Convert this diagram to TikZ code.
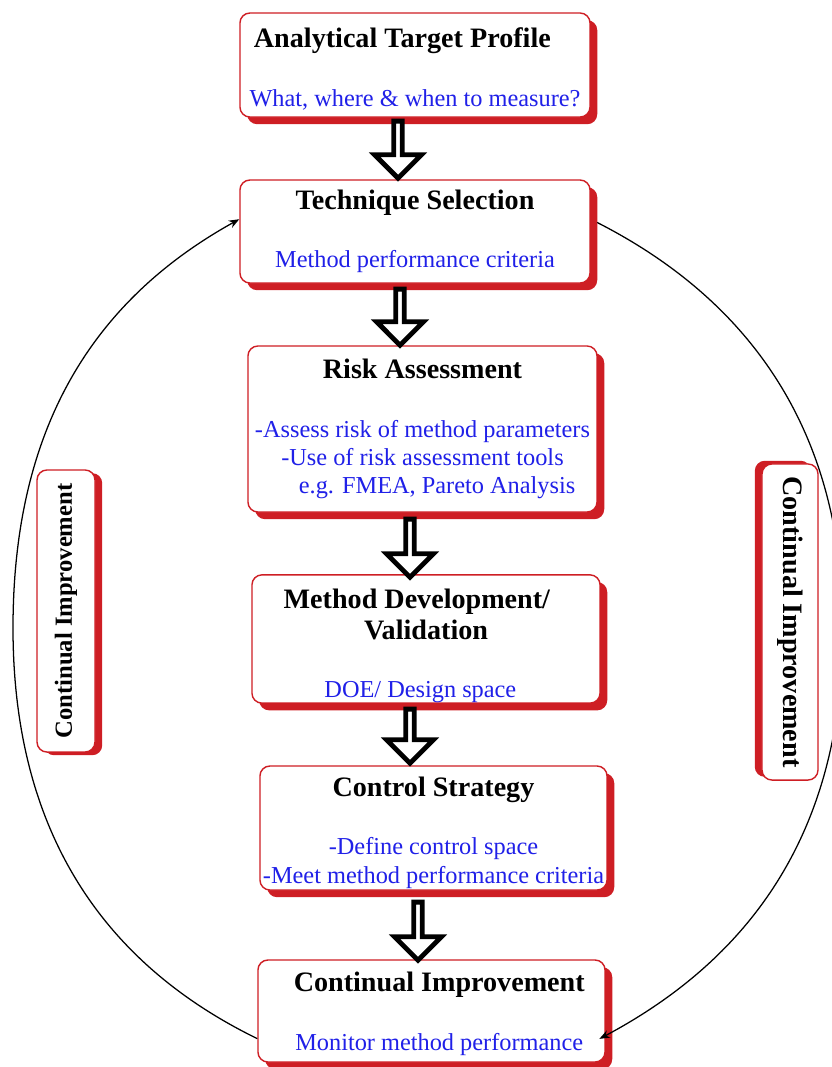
\documentclass[tikz,border=0pt]{standalone}
\usepackage{fontspec}
\setmainfont{Liberation Serif}
\usepackage{graphicx}
\usetikzlibrary{positioning,arrows.meta,shapes.arrows,shadows}
\definecolor{BoxRed}{RGB}{206,30,36}
\definecolor{NoteBlue}{RGB}{32,32,232}
\newcommand{\ttl}{\fontsize{20}{23}\selectfont\bfseries}
\newcommand{\nte}{\fontsize{17.3}{20}\selectfont\color{NoteBlue}}

\begin{document}
\begin{tikzpicture}[x=0.025cm, y=-0.025cm, every node/.style={align=center}]
\tikzset{
  panel/.style={draw=BoxRed, line width=1pt, rounded corners=0.25cm, fill=white, inner sep=0pt,
    font=\fontsize{17.3}{20}\selectfont},
  stage/.style={panel, drop shadow={shadow xshift=0.18cm, shadow yshift=-0.18cm, fill=BoxRed, opacity=1}},
  sidel/.style={panel, minimum width=1.45cm, drop shadow={shadow xshift=0.18cm, shadow yshift=-0.08cm, fill=BoxRed, opacity=1}},
  sider/.style={panel, minimum width=1.4cm, drop shadow={shadow xshift=-0.18cm, shadow yshift=0.08cm, fill=BoxRed, opacity=1}},
  hollow/.style={single arrow, draw=black, line width=3.4pt, fill=white, shape border rotate=270,
    minimum width=1.17cm, single arrow head extend=0.27cm, inner sep=0pt},
  cyclearc/.style={-{Stealth[length=2.6mm,width=2mm]}, line width=0.9pt}
}
  \useasboundingbox (0,0) rectangle (832,1067);
  \clip (0,0) rectangle (832,1067);

  % stages
  \node[stage, minimum width=8.75cm, minimum height=2.6cm] (atp) at (415,65)
    {{\ttl\rule{0pt}{19.5pt}Analytical Target Profile\hspace*{18pt}}\\[21.5pt]{\nte What, where \& when to measure?}};
  \node[stage, minimum width=8.75cm, minimum height=2.575cm] (ts) at (415,231.5)
    {{\ttl Technique Selection}\\[21.5pt]{\nte Method performance criteria}};
  \node[stage, minimum width=8.725cm, minimum height=4.15cm] (ra) at (422.5,429)
    {{\ttl Risk Assessment}\\[21.5pt]{\nte -Assess risk of method parameters}\\
     {\nte -Use of risk assessment tools}\\{\nte \hspace*{1.2em}e.g. FMEA, Pareto Analysis}};
  \node[stage, minimum width=8.7cm, minimum height=3.05cm] (md) at (426,639)
    {{\ttl\rule{0pt}{24pt}Method Development/\hspace*{13pt}}\\[2pt]{\ttl Validation\hspace*{15pt}}\\[21.5pt]{\nte DOE/ Design space\hspace*{8pt}}};
  \node[stage, minimum width=8.675cm, minimum height=3.1cm] (cs) at (433.5,828)
    {{\ttl\rule{0pt}{20.5pt}Control Strategy}\\[21.5pt]{\nte -Define control space}\\{\nte -Meet method performance criteria}};
  \node[stage, minimum width=8.675cm, minimum height=2.55cm] (ci) at (431.5,1011)
    {{\ttl\rule{0pt}{18pt}\hspace*{11pt}Continual Improvement}\\[21.5pt]{\nte \hspace*{11pt}Monitor method performance}};

  % side labels
  \node[sidel, minimum height=7.05cm] (cil) at (66,611)
    {\rotatebox{90}{\fontsize{17.5}{20}\selectfont\bfseries Continual Improvement}};
  \node[sider, minimum height=7.9cm] (cir) at (790,622)
    {\rotatebox{-90}{\ttl Continual Improvement}};

  % block arrows
  \node[hollow, minimum height=1.425cm] (a1) at (398,147.5) {};
  \node[hollow, minimum height=1.4cm] (a2) at (400,315) {};
  \node[hollow, minimum height=1.45cm] (a3) at (410,546) {};
  \node[hollow, minimum height=1.35cm] (a4) at (410,734) {};
  \node[hollow, minimum height=1.45cm] (a5) at (418,929) {};

  % improvement cycle
  \coordinate (lft) at (13,628);
  \coordinate (rgt) at (843,628);
  \draw[cyclearc] (ci.189) to[out=154, in=-90] (lft) to[out=90, in=209] (ts.176);
  \draw[cyclearc, shorten <=0.18cm, shorten >=-0.18cm] (ts.4) to[out=-27, in=90] (rgt)
    to[out=-90, in=28] (ci.-8);
\end{tikzpicture}
\end{document}
